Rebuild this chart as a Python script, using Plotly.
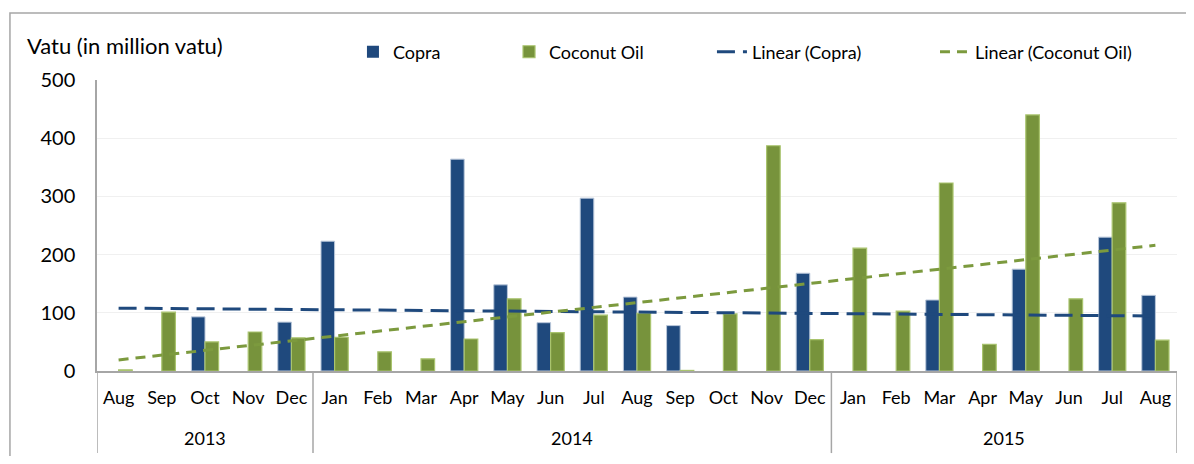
import plotly.graph_objects as go

years = ["2013"] * 5 + ["2014"] * 12 + ["2015"] * 8
months = ["Aug", "Sep", "Oct", "Nov", "Dec",
          "Jan", "Feb", "Mar", "Apr", "May", "Jun", "Jul", "Aug", "Sep", "Oct", "Nov", "Dec",
          "Jan", "Feb", "Mar", "Apr", "May", "Jun", "Jul", "Aug"]

copra = [0, 0, 93, 0, 84,
         223, 0, 0, 364, 148, 83, 297, 127, 78, 0, 0, 168,
         0, 0, 122, 0, 175, 0, 230, 130]
coconut_oil = [2, 101, 50, 67, 57,
               58, 33, 21, 55, 124, 66, 96, 99, 1, 98, 387, 54,
               211, 103, 323, 46, 440, 124, 289, 53]

# Linear trend values at first and last month
trend_copra = [108, 94.5]
trend_coconut = [19, 216]

y_ticks = [0, 100, 200, 300, 400, 500]

BLUE = "#1F497D"
GREEN = "#77933C"
GRAY = "#A6A6A6"
FONT = "Lato"

idx = list(range(len(months)))
x_ends = [idx[0], idx[-1]]

fig = go.Figure()
fig.add_trace(go.Bar(x=idx, y=copra, name="Copra", legend="legend",
                     marker=dict(color=BLUE, line=dict(color="#B9C7DA",
                                                       width=[1 if v > 0 else 0 for v in copra]))))
fig.add_trace(go.Bar(x=idx, y=coconut_oil, name="Coconut Oil", legend="legend2",
                     marker=dict(color=GREEN, line=dict(color="#A9C46E",
                                                        width=[1.2 if v > 0 else 0 for v in coconut_oil]))))
fig.add_trace(go.Scatter(x=x_ends, y=trend_copra, mode="lines", name="Linear (Copra)", legend="legend3",
                         line=dict(color=BLUE, width=3, dash="18px,8px")))
fig.add_trace(go.Scatter(x=x_ends, y=trend_coconut, mode="lines", name="Linear (Coconut Oil)", legend="legend4",
                         line=dict(color="#7C9A3E", width=3, dash="10px,7px")))

# year groups: dividers at boundaries, labels at group centres
boundaries = [-0.5]
groups = []
start = 0
for i in range(1, len(years) + 1):
    if i == len(years) or years[i] != years[start]:
        groups.append((years[start], (start + i - 1) / 2))
        boundaries.append(i - 0.5)
        start = i

shapes = [dict(type="line", xref="x", yref="paper", x0=b, x1=b, y0=0, y1=-0.282,
               line=dict(color=GRAY, width=1.5)) for b in boundaries]
shapes.append(dict(type="rect", xref="paper", yref="paper",
                   x0=-0.0806, x1=1.05, y0=-0.5, y1=1.230,
                   line=dict(color=GRAY, width=1.5), fillcolor="rgba(0,0,0,0)", layer="below"))

annotations = [dict(text=g, x=c, xref="x", y=-0.230, yref="paper", showarrow=False,
                    xanchor="center", yanchor="middle", font=dict(size=18)) for g, c in groups]
annotations.append(dict(text="Vatu (in million vatu)", xref="paper", yref="paper",
                        x=-0.0667, y=1.120, xanchor="left", yanchor="middle", showarrow=False,
                        font=dict(size=22)))

leg = dict(orientation="h", y=1.096, yanchor="middle", xanchor="left",
           font=dict(size=18), bgcolor="rgba(0,0,0,0)", borderwidth=0)

fig.update_layout(
    width=1178, height=448,
    margin=dict(l=89, r=9, t=72, b=85),
    paper_bgcolor="white", plot_bgcolor="white",
    font=dict(family=FONT, size=18, color="black"),
    barmode="group", bargap=0.37, bargroupgap=0,
    showlegend=True,
    legend=dict(leg, x=0.2370),
    legend2=dict(leg, x=0.3815),
    legend3=dict(leg, x=0.5694),
    legend4=dict(leg, x=0.7759),
    xaxis=dict(range=[-0.5, len(months) - 0.5], tickmode="array", tickvals=idx, ticktext=months,
               showline=True, linecolor=GRAY, linewidth=1.5, showgrid=False, zeroline=False,
               ticks="", ticklabelstandoff=10, tickfont=dict(size=18)),
    yaxis=dict(range=[0, 500], tickvals=y_ticks, showline=True, linecolor=GRAY, linewidth=1.5,
               showgrid=True, gridcolor="#F0F0F0", gridwidth=1, zeroline=False,
               ticklabelstandoff=16, tickfont=dict(size=20)),
    annotations=annotations,
    shapes=shapes,
)

fig.write_html("out.html")
